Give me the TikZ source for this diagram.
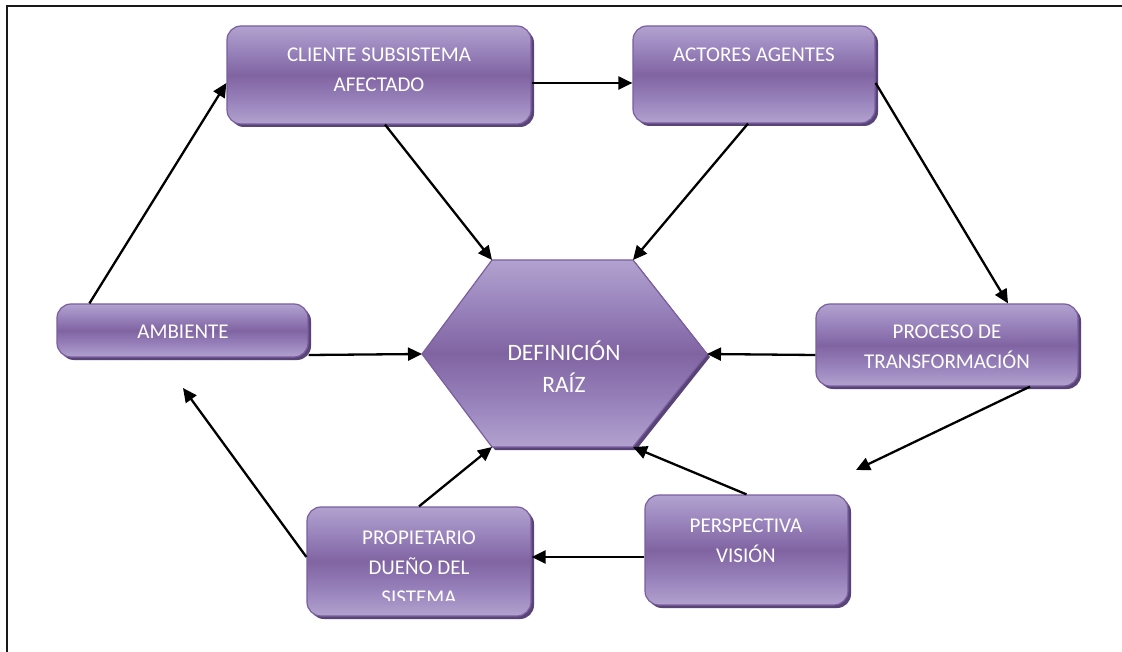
\documentclass[tikz,border=0pt]{standalone}
\usepackage{fontspec}
\setmainfont{Carlito}
\usetikzlibrary{arrows.meta,calc,shadows}

\definecolor{lilaLight}{RGB}{178,162,207}
\definecolor{lilaMid}{RGB}{152,130,187}
\definecolor{lilaDark}{RGB}{128,100,162}
\definecolor{lilaEdge}{RGB}{122,94,158}
\definecolor{lilaShadow}{RGB}{88,68,118}

% light - dark - light band, as in the boxes
\pgfdeclareverticalshading{lilashade}{100bp}{%
  color(0bp)=(lilaLight); color(25bp)=(lilaLight); color(37bp)=(lilaMid);
  color(50bp)=(lilaDark); color(62bp)=(lilaMid); color(75bp)=(lilaLight);
  color(100bp)=(lilaLight)}

\tikzset{
  purplefill/.style={shading=lilashade, draw=lilaEdge, line width=1.2pt,
    drop shadow={shadow xshift=3pt, shadow yshift=-3pt, fill=lilaShadow, opacity=1}},
  box/.style={purplefill, rectangle, rounded corners=14pt, inner sep=0pt},
  txt/.style={text=white, font=\fontsize{21}{30}\selectfont, align=center, inner sep=0pt},
  bigtxt/.style={txt, font=\fontsize{23.5}{32}\selectfont},
  arr/.style={line width=2.3pt, -{Triangle[length=14pt,width=13pt]}},
}

\begin{document}
\begin{tikzpicture}[x=1pt, y=-1pt]
\useasboundingbox (0,0) rectangle (1122,652);

% page frame
\draw[line width=1.6pt, black!90] (1122,6) -- (7,6) -- (7,652);

% boxes
\node[box, minimum width=304pt, minimum height=98pt]  (cli) at (379,75)    {};
\node[box, minimum width=242pt, minimum height=97pt]  (act) at (754,74.5)  {};
\node[box, minimum width=251pt, minimum height=53pt]  (amb) at (182.5,330.5) {};
\node[box, minimum width=262pt, minimum height=82pt]  (pro) at (947,345)   {};
\node[box, minimum width=203pt, minimum height=110pt] (per) at (746.5,550) {};
\node[box, minimum width=224pt, minimum height=109pt] (due) at (419,561.5) {};

% central hexagon
\coordinate (h1) at (492,260);
\coordinate (h2) at (633,260);
\coordinate (h3) at (707,354);
\coordinate (h4) at (633,447);
\coordinate (h5) at (492,447);
\coordinate (h6) at (422,354);
\path[purplefill] (h1) -- (h2) -- (h3) -- (h4) -- (h5) -- (h6) -- cycle;

% texts
\node[txt] (cliT) at (379,70)  {CLIENTE SUBSISTEMA\\AFECTADO};
\node[txt] (actT) at (754,55)  {ACTORES AGENTES};
\node[txt] (ambT) at (183,332) {AMBIENTE};
\node[txt] (proT) at (947,347) {PROCESO DE\\TRANSFORMACIÓN};
\node[txt] (perT) at (746,541) {PERSPECTIVA\\VISIÓN};
\node[bigtxt] (defT) at (564,367) {DEFINICIÓN\\RAÍZ};
\begin{scope}
  % the last line is cut off by the box's text area
  \clip ($(due.north west)$) rectangle ($(due.south east)+(0,-16)$);
  \node[txt] (dueT) at (419,568) {PROPIETARIO\\DUEÑO DEL\\SISTEMA};
\end{scope}

% free arrow ends
\coordinate (ambIn) at (183,388);
\coordinate (perIn) at (856,470);

% connectors
\draw[arr] ($(amb.north west)+(33,0)$) -- ($(cli.west)+(0,8)$);
\draw[arr] ($(cli.east)+(0,8)$) -- ($(act.west)+(0,8.5)$);
\draw[arr] ($(act.east)+(0,8.5)$) -- ($(pro.north)+(61,0)$);
\draw[arr] ($(pro.south)+(83,0)$) -- (perIn);
\draw[arr] (per.north) -- (h4);
\draw[arr] ($(per.west)+(0,7)$) -- ($(due.east)+(0,-4.5)$);
\draw[arr] (due.north) -- (h5);
\draw[arr] ($(due.west)+(0,-4.5)$) -- (ambIn);
\draw[arr] ($(amb.east)+(0,24.5)$) -- (h6);
\draw[arr] ($(pro.west)+(0,10)$) -- (h3);
\draw[arr] ($(cli.south)+(6,0)$) -- (h1);
\draw[arr] ($(act.south)+(-6,0)$) -- (h2);
\end{tikzpicture}
\end{document}
